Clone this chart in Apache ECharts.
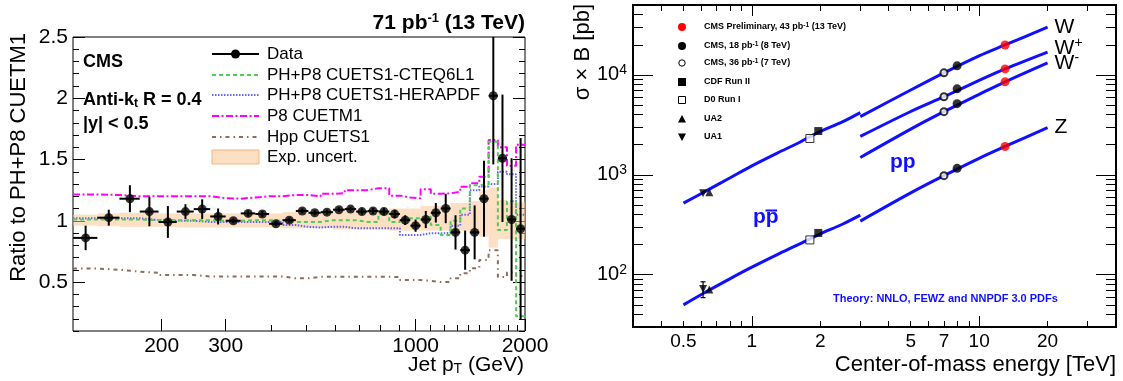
<!DOCTYPE html>
<html>
<head>
<meta charset="utf-8">
<script src="https://cdn.jsdelivr.net/npm/echarts@6.0.0/dist/echarts.min.js"></script>
<style>html,body{margin:0;padding:0;background:#fff;}#chart{width:1123px;height:381px;}</style>
</head>
<body>
<div id="chart"></div>
<script>
// ================= LEFT PANEL DATA (ratio to PH+P8 CUETM1) =================
const binEdges = [114,133,153,174,196,220,245,272,300,330,362,395,430,468,507,548,592,638,686,737,790,846,905,967,1032,1101,1172,1248,1327,1410,1497,1588,1684,1784,1890,2000];
const dataRatio = [0.86,1.025,1.18,1.075,0.99,1.075,1.095,1.035,1.0,1.06,1.055,0.975,1.005,1.08,1.065,1.07,1.09,1.095,1.075,1.08,1.075,1.055,1.005,0.96,1.01,1.065,1.10,0.905,0.76,0.905,1.18,2.02,1.51,1.01,0.935];
const dataErr = [0.10,0.065,0.11,0.12,0.13,0.06,0.08,0.065,0.02,0.025,0.025,0.02,0.02,0.02,0.02,0.02,0.02,0.02,0.025,0.025,0.03,0.035,0.04,0.05,0.07,0.08,0.12,0.14,0.16,0.22,0.31,0.56,0.52,0.5,0.74];
const cteq6l1 = [1.01,1.01,1.01,1.005,1.005,1.005,1.005,1.0,1.0,1.005,1.005,1.0,0.99,0.99,0.99,1.005,1.005,1.005,0.99,0.99,1.06,0.99,1.02,1.02,1.033,0.965,0.884,1.0,1.10,1.29,1.30,1.645,0.924,1.16,0.22];
const herapdf = [1.02,1.02,1.02,1.005,1.0,1.0,0.99,0.99,0.99,0.99,0.99,0.99,0.965,0.95,0.945,0.951,0.951,0.938,0.938,0.938,0.938,0.938,0.884,0.884,0.898,0.898,0.90,0.96,1.05,1.25,1.28,1.30,1.40,1.38,1.05];
const cuetm1 = [1.215,1.21,1.20,1.20,1.20,1.20,1.20,1.185,1.18,1.19,1.20,1.20,1.21,1.21,1.20,1.22,1.225,1.25,1.25,1.265,1.265,1.205,1.19,1.183,1.257,1.22,1.224,1.237,1.278,1.306,1.36,1.66,1.60,1.45,1.62];
const hppCuets1 = [0.61,0.60,0.585,0.575,0.557,0.557,0.545,0.545,0.545,0.545,0.545,0.545,0.53,0.53,0.543,0.543,0.543,0.543,0.543,0.543,0.543,0.54,0.516,0.516,0.51,0.50,0.50,0.53,0.571,0.612,0.68,0.76,0.54,0.58,0.55];
const bandLo = [0.96,0.955,0.95,0.95,0.95,0.945,0.945,0.945,0.945,0.945,0.945,0.945,0.94,0.94,0.94,0.94,0.93,0.93,0.93,0.93,0.93,0.92,0.92,0.92,0.92,0.92,0.92,0.92,0.92,0.90,0.87,0.78,0.85,0.85,0.85];
const bandHi = [1.05,1.06,1.065,1.065,1.06,1.06,1.06,1.06,1.06,1.06,1.06,1.06,1.07,1.07,1.07,1.07,1.08,1.08,1.08,1.08,1.08,1.10,1.10,1.10,1.12,1.12,1.12,1.145,1.145,1.16,1.25,1.27,1.17,1.15,1.15];
const leftXMajorTicks = [200,300,1000,2000];
const leftXMinorTicks = [400,500,600,700,800,900,1100,1200,1300,1400,1500,1600,1700,1800,1900];
const leftYMajorTicks = [0.5,1,1.5,2,2.5];
const leftYMinorTicks = [0.1,0.2,0.3,0.4,0.6,0.7,0.8,0.9,1.1,1.2,1.3,1.4,1.6,1.7,1.8,1.9,2.1,2.2,2.3,2.4];

// ================= RIGHT PANEL DATA (sigma x B, pb) =================
const sqrtsPPbar = [0.5,0.63,0.8,1.0,1.3,1.6,1.96,2.5,3.0];
const wPPbarTheory = [520,690,930,1230,1660,2080,2660,3380,4190];
const zPPbarTheory = [50,67.6,91,119,160,200,251,320,395];
const sqrtsPP = [3,5,7,10,13,20];
const wPPTheory = [3820,7050,10470,15500,19900,30000];
const wPlusPPTheory = [2420,4300,6040,8790,11460,16900];
const wMinusPPTheory = [1490,2865,4280,6380,8520,13200];
const zPPTheory = [344,659,980,1462,1920,2970];
// measurements: [W, W+, W-, Z]
const eCMS13 = 13, cms13TeV = [19900,11460,8520,1920];
const eCMS8 = 8, cms8TeV = [12300,7250,5150,1160];
const eCMS7 = 7, cms7TeV = [10470,6040,4280,980];
// [W, Z]
const eCDF = 1.96, cdfRunII = [2740,262];
const eD0 = 1.8, d0RunI = [2310,223];
const eUA2 = 0.65, ua2 = [670,71];
const eUA1 = 0.61, ua1 = [655,72];
const ua1ZErr = [59,85];
const rightXLabels = [0.5,1,2,5,7,10,20];
const rightXMajorTicks = [1,10];
const rightXMinorTicks = [0.4,0.5,0.6,0.7,0.8,0.9,2,3,4,5,6,7,8,9,20,30];
const rightYMajorTicks = [100,1000,10000];
const rightYMinorTicks = [40,50,60,70,80,90,200,300,400,500,600,700,800,900,2000,3000,4000,5000,6000,7000,8000,9000,20000,30000,40000];

// ================= BUILD =================
const FONT = '"Liberation Sans", Arial, Helvetica, sans-serif';
const BLUE = '#1010ff';
const C_GREEN = '#52cc52', C_BLUE = '#6464ee', C_MAG = '#ff00ff', C_BROWN = '#8c6e5f';
const BAND_FILL = 'rgba(252,196,146,0.55)';

function histo(vals){
  const d = vals.map((v,i)=>[binEdges[i], v]);
  d.push([binEdges[binEdges.length-1], vals[vals.length-1]]);
  return d;
}
function pairs(xs, ys){ return xs.map((x,i)=>[x, ys[i]]); }
const fmtLog = v => String(+(+v).toPrecision(3));
const tickStyle = {color:'#000', width:1};

function xAx(grid, min, max, pos, ticks, len, labels, labelSize, lw){
  return {gridIndex:grid, type:'log', logBase:10, min:min, max:max, position:pos,
    axisLine:{show:false},
    axisTick:{show:true, inside:true, length:len, customValues:ticks, lineStyle:{color:'#000', width:lw||1}},
    axisLabel: labels ? {show:true, customValues:labels, formatter:fmtLog, fontSize:labelSize, color:'#000', fontFamily:FONT, margin:5}
                      : {show:false},
    splitLine:{show:false}, minorTick:{show:false}};
}
function yAxLin(grid, pos, ticks, len, labels){
  return {gridIndex:grid, type:'value', min:0.1, max:2.5, position:pos,
    axisLine:{show:false},
    axisTick:{show:true, inside:true, length:len, customValues:ticks, lineStyle:tickStyle},
    axisLabel: labels ? {show:true, customValues:labels, formatter:v=>String(+(+v).toFixed(2)), fontSize:21, color:'#000', fontFamily:FONT, margin:5}
                      : {show:false},
    splitLine:{show:false}};
}
function yAxLog(grid, pos, ticks, len, labels){
  return {gridIndex:grid, type:'log', logBase:10, min:30, max:50000, position:pos,
    axisLine:{show:false},
    axisTick:{show:true, inside:true, length:len, customValues:ticks, lineStyle:tickStyle},
    axisLabel: labels ? {show:true, customValues:labels,
        formatter:v=>'10{sup|'+Math.round(Math.log10(v))+'}',
        fontSize:20, color:'#000', fontFamily:FONT, margin:6,
        rich:{sup:{fontSize:14, fontFamily:FONT, color:'#000', verticalAlign:'top', padding:[0,0,10,0]}}}
      : {show:false},
    splitLine:{show:false}};
}

const LG = {left:73, top:37, width:452, height:294};
const RG = {left:633, top:5, width:483, height:322};

const grids = [
  Object.assign({show:true, borderColor:'#000', borderWidth:1, backgroundColor:'transparent'}, LG),
  Object.assign({show:true, borderColor:'#000', borderWidth:2, backgroundColor:'transparent'}, RG),
  Object.assign({show:false}, LG),
  Object.assign({show:false}, RG)
];

const xAxes = [
  xAx(0, 114, 2000, 'bottom', leftXMajorTicks, 12, leftXMajorTicks, 21),
  xAx(2, 114, 2000, 'bottom', leftXMinorTicks, 6, null),
  xAx(1, 0.3, 40, 'bottom', rightXMajorTicks, 11, rightXLabels, 19),
  xAx(1, 0.3, 40, 'top', rightXMajorTicks, 11, null),
  xAx(3, 0.3, 40, 'bottom', rightXMinorTicks, 6, null),
  xAx(3, 0.3, 40, 'top', rightXMinorTicks, 6, null)
];
const yAxes = [
  yAxLin(0, 'left', leftYMajorTicks, 12, leftYMajorTicks),
  yAxLin(0, 'right', leftYMajorTicks, 12, null),
  yAxLin(2, 'left', leftYMinorTicks, 6, null),
  yAxLin(2, 'right', leftYMinorTicks, 6, null),
  yAxLog(1, 'left', rightYMajorTicks, 20, rightYMajorTicks),
  yAxLog(1, 'right', rightYMajorTicks, 20, null),
  yAxLog(3, 'left', rightYMinorTicks, 10, null),
  yAxLog(3, 'right', rightYMinorTicks, 10, null)
];

function stepLine(name, vals, color, dash){
  return {type:'line', name:name, xAxisIndex:0, yAxisIndex:0, data:histo(vals), step:'end',
    symbol:'none', silent:true, clip:true, z:3,
    lineStyle:{color:color, width:2, type:dash}};
}

const series = [];
// experimental uncertainty band
series.push({type:'custom', name:'Exp. uncert.', xAxisIndex:0, yAxisIndex:0, clip:true, z:1, silent:true,
  data: bandLo.map((lo,i)=>[binEdges[i], binEdges[i+1], lo, bandHi[i]]),
  encode:{x:[0,1], y:[2,3]},
  renderItem:function(params, api){
    const p1 = api.coord([api.value(0), api.value(3)]);
    const p2 = api.coord([api.value(1), api.value(2)]);
    return {type:'rect', shape:{x:p1[0], y:p1[1], width:p2[0]-p1[0], height:p2[1]-p1[1]},
      style:{fill:BAND_FILL}};
  }});
series.push(stepLine('Hpp CUETS1', hppCuets1, C_BROWN, [4,4,1.5,4]));
series.push(stepLine('P8 CUETM1', cuetm1, C_MAG, [7,2.5,2,2.5]));
series.push(stepLine('PH+P8 CUETS1-HERAPDF', herapdf, C_BLUE, [1.5,1.5]));
series.push(stepLine('PH+P8 CUETS1-CTEQ6L1', cteq6l1, C_GREEN, [4,3]));
// data error bars
series.push({type:'custom', name:'Data errors', xAxisIndex:0, yAxisIndex:0, clip:true, z:5, silent:true,
  data: dataRatio.map((v,i)=>[binEdges[i], binEdges[i+1], v, v-dataErr[i], v+dataErr[i], (binEdges[i]+binEdges[i+1])/2]),
  encode:{x:[0,1], y:[3,4]},
  renderItem:function(params, api){
    const a = api.coord([api.value(0), api.value(2)]);
    const b = api.coord([api.value(1), api.value(2)]);
    const c = api.coord([api.value(5), api.value(3)]);
    const d = api.coord([api.value(5), api.value(4)]);
    return {type:'group', children:[
      {type:'line', shape:{x1:a[0], y1:a[1], x2:b[0], y2:b[1]}, style:{stroke:'#000', lineWidth:2}},
      {type:'line', shape:{x1:c[0], y1:c[1], x2:d[0], y2:d[1]}, style:{stroke:'#000', lineWidth:2}}
    ]};
  }});
series.push({type:'scatter', name:'Data', xAxisIndex:0, yAxisIndex:0, z:6, silent:true,
  data: dataRatio.map((v,i)=>[(binEdges[i]+binEdges[i+1])/2, v]),
  symbol:'circle', symbolSize:9, itemStyle:{color:'#000'}});

// right panel theory curves
function curve(name, xs, ys, label, rich, offset){
  const s = {type:'line', name:name, xAxisIndex:2, yAxisIndex:4, data:pairs(xs, ys), smooth:0.3,
    symbol:'none', silent:true, z:3, lineStyle:{color:BLUE, width:3}};
  if (label){
    s.endLabel = {show:true, formatter:label, color:'#000', fontSize:21, fontFamily:FONT, distance:7,
      offset: offset || [0,0],
      rich: {sup:{fontSize:14, fontFamily:FONT, color:'#000', verticalAlign:'top', padding:[0,0,10,0]}}};
  }
  return s;
}
series.push(curve('W ppbar NNLO', sqrtsPPbar, wPPbarTheory));
series.push(curve('Z ppbar NNLO', sqrtsPPbar, zPPbarTheory));
series.push(curve('W pp NNLO', sqrtsPP, wPPTheory, 'W'));
series.push(curve('W+ pp NNLO', sqrtsPP, wPlusPPTheory, 'W{sup|+}', null, [0,-4]));
series.push(curve('W- pp NNLO', sqrtsPP, wMinusPPTheory, 'W{sup|-}'));
series.push(curve('Z pp NNLO', sqrtsPP, zPPTheory, 'Z'));

function pts(name, e, vals, symbol, size, color, extra){
  return Object.assign({type:'scatter', name:name, xAxisIndex:2, yAxisIndex:4, z:6, silent:true,
    data: vals.map(v=>[e, v]), symbol:symbol, symbolSize:size, itemStyle:{color:color}}, extra||{});
}
// UA1 Z error bar
series.push({type:'custom', name:'UA1 err', xAxisIndex:2, yAxisIndex:4, z:5, silent:true,
  data:[[eUA1, ua1ZErr[0], ua1ZErr[1]]], encode:{x:0, y:[1,2]},
  renderItem:function(params, api){
    const lo = api.coord([api.value(0), api.value(1)]);
    const hi = api.coord([api.value(0), api.value(2)]);
    return {type:'group', children:[
      {type:'line', shape:{x1:lo[0], y1:lo[1], x2:hi[0], y2:hi[1]}, style:{stroke:'#000', lineWidth:1.2}},
      {type:'line', shape:{x1:lo[0]-2.5, y1:lo[1], x2:lo[0]+2.5, y2:lo[1]}, style:{stroke:'#000', lineWidth:1.2}},
      {type:'line', shape:{x1:hi[0]-2.5, y1:hi[1], x2:hi[0]+2.5, y2:hi[1]}, style:{stroke:'#000', lineWidth:1.2}}
    ]};
  }});
series.push(pts('CMS Preliminary, 43 pb-1 (13 TeV)', eCMS13, cms13TeV, 'circle', 9, '#ff0000'));
series.push(pts('CMS, 18 pb-1 (8 TeV)', eCMS8, cms8TeV, 'circle', 9, '#000'));
series.push(pts('CMS, 36 pb-1 (7 TeV)', eCMS7, cms7TeV, 'emptyCircle', 7, '#000', {itemStyle:{color:'#000', borderWidth:1}}));
series.push(pts('CDF Run II', eCDF, cdfRunII, 'rect', 8, '#000'));
series.push(pts('D0 Run I', eD0, d0RunI, 'rect', 8, '#fff', {itemStyle:{color:'#fff', borderColor:'#000', borderWidth:1}}));
series.push(pts('UA2', eUA2, ua2, 'triangle', 8, '#000'));
series.push(pts('UA1', eUA1, ua1, 'triangle', 8, '#000', {symbolRotate:180}));

// ================= GRAPHIC TEXTS / LEGENDS =================
function txt(x, y, text, size, opts){
  opts = opts || {};
  return {type:'text', x:x, y:y, rotation:opts.rotation||0, z:10, silent:true,
    style:{text:text, fontSize:size, fontFamily:FONT, fontWeight:opts.bold?'bold':'normal',
      fill:opts.color||'#000', align:opts.align||'left', verticalAlign:opts.va||'middle',
      rich:opts.rich}};
}
function supRich(size, bold){ return {sup:{fontSize:size, fontFamily:FONT, fontWeight:bold?'bold':'normal', fill:'#000', verticalAlign:'top', padding:[0,0,size*0.7,0]}}; }
function subRich(size, bold){ return {sub:{fontSize:size, fontFamily:FONT, fontWeight:bold?'bold':'normal', fill:'#000', verticalAlign:'bottom', padding:[size*0.6,0,0,0]}}; }

const g = [];
// left panel texts
g.push(txt(525, 23, '71 pb{sup|-1} (13 TeV)', 21, {bold:true, align:'right', rich:supRich(13,true)}));
g.push(txt(83, 62, 'CMS', 18, {bold:true}));
g.push(txt(83, 100, 'Anti-k{sub|t} R = 0.4', 18, {bold:true, rich:subRich(12,true)}));
g.push(txt(83, 124, '|y| < 0.5', 18, {bold:true}));
g.push(txt(19, 33, 'Ratio to PH+P8 CUETM1', 22, {rotation:Math.PI/2, align:'right'}));
g.push(txt(524, 365, 'Jet p{sub|T} (GeV)', 21, {align:'right', rich:subRich(14,false)}));
// left legend
const legRows = [54,75,95,116,137,157];
const legX1 = 212, legX2 = 259, legTx = 267;
g.push({type:'line', z:10, silent:true, shape:{x1:legX1, y1:legRows[0], x2:legX2, y2:legRows[0]}, style:{stroke:'#000', lineWidth:2}});
g.push({type:'circle', z:10, silent:true, shape:{cx:(legX1+legX2)/2, cy:legRows[0], r:4.5}, style:{fill:'#000'}});
const legLines = [[C_GREEN,[4,3]],[C_BLUE,[1.5,1.5]],[C_MAG,[7,2.5,2,2.5]],[C_BROWN,[4,4,1.5,4]]];
legLines.forEach((l,i)=>{
  g.push({type:'line', z:10, silent:true, shape:{x1:legX1, y1:legRows[i+1], x2:legX2, y2:legRows[i+1]}, style:{stroke:l[0], lineWidth:2, lineDash:l[1]}});
});
g.push({type:'rect', z:10, silent:true, shape:{x:legX1, y:legRows[5]-7, width:legX2-legX1, height:14}, style:{fill:BAND_FILL, stroke:'#f7b27a', lineWidth:1}});
const legNames = ['Data','PH+P8 CUETS1-CTEQ6L1','PH+P8 CUETS1-HERAPDF','P8 CUETM1','Hpp CUETS1','Exp. uncert.'];
legNames.forEach((n,i)=>g.push(txt(legTx, legRows[i], n, 17)));

// right panel texts
g.push(txt(583, 4, 'σ × B [pb]', 22, {rotation:Math.PI/2, align:'right'}));
g.push(txt(1116, 365, 'Center-of-mass energy [TeV]', 22, {align:'right'}));
g.push(txt(890, 162, 'pp', 21, {bold:true, color:BLUE}));
g.push(txt(753, 217, 'pp', 21, {bold:true, color:BLUE}));
g.push({type:'line', z:10, silent:true, shape:{x1:765.5, y1:210.5, x2:777, y2:210.5}, style:{stroke:BLUE, lineWidth:2}});
g.push(txt(833, 299, 'Theory: NNLO, FEWZ and NNPDF 3.0 PDFs', 11, {bold:true, color:BLUE}));
// right legend
const rRows = [27,46,63,82,100,119,137];
const rMx = 682, rTx = 704;
g.push({type:'circle', z:10, silent:true, shape:{cx:rMx, cy:rRows[0], r:4}, style:{fill:'#ff0000'}});
g.push({type:'circle', z:10, silent:true, shape:{cx:rMx, cy:rRows[1], r:4}, style:{fill:'#000'}});
g.push({type:'circle', z:10, silent:true, shape:{cx:rMx, cy:rRows[2], r:3.2}, style:{fill:'#fff', stroke:'#000', lineWidth:1}});
g.push({type:'rect', z:10, silent:true, shape:{x:rMx-4, y:rRows[3]-4, width:8, height:8}, style:{fill:'#000'}});
g.push({type:'rect', z:10, silent:true, shape:{x:rMx-3.5, y:rRows[4]-3.5, width:7, height:7}, style:{fill:'#fff', stroke:'#000', lineWidth:1}});
g.push({type:'polygon', z:10, silent:true, shape:{points:[[rMx-4,rRows[5]+3.5],[rMx+4,rRows[5]+3.5],[rMx,rRows[5]-4]]}, style:{fill:'#000'}});
g.push({type:'polygon', z:10, silent:true, shape:{points:[[rMx-4,rRows[6]-3.5],[rMx+4,rRows[6]-3.5],[rMx,rRows[6]+4]]}, style:{fill:'#000'}});
const rNames = ['CMS Preliminary, 43 pb{sup|-1} (13 TeV)','CMS, 18 pb{sup|-1} (8 TeV)','CMS, 36 pb{sup|-1} (7 TeV)','CDF Run II','D0 Run I','UA2','UA1'];
rNames.forEach((n,i)=>g.push(txt(rTx, rRows[i], n, 9, {bold:true, rich:supRich(6.5,true)})));

const chart = echarts.init(document.getElementById('chart'), null, {renderer:'canvas'});
chart.setOption({
  animation:false,
  backgroundColor:'#fff',
  textStyle:{fontFamily:FONT},
  grid:grids,
  xAxis:xAxes,
  yAxis:yAxes,
  series:series,
  graphic:{elements:g}
});
</script>
</body>
</html>
